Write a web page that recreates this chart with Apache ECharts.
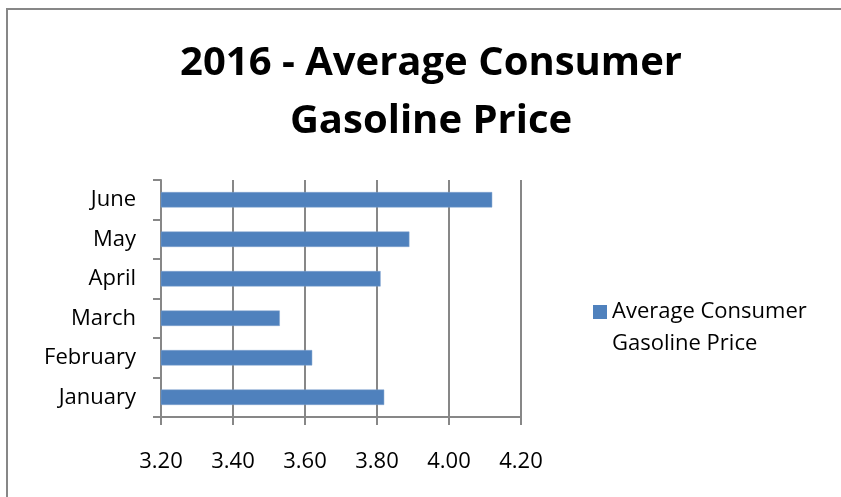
<!DOCTYPE html>
<html>
<head>
<meta charset="utf-8">
<script src="https://cdn.jsdelivr.net/npm/echarts@6/dist/echarts.min.js"></script>
<style>
html,body{margin:0;padding:0;background:#fff;}
#chart{width:841px;height:497px;}
</style>
</head>
<body>
<div id="chart"></div>
<script>
const categories = ['January', 'February', 'March', 'April', 'May', 'June'];
const prices = [3.82, 3.62, 3.53, 3.81, 3.89, 4.12];
const seriesName = 'Average Consumer Gasoline Price';
const xTicks = [3.2, 3.4, 3.6, 3.8, 4.0, 4.2];

const FONT = 'Open Sans';
const chart = echarts.init(document.getElementById('chart'), null, {renderer: 'canvas'});
chart.setOption({
  animation: false,
  backgroundColor: '#ffffff',
  title: {
    text: '2016 - Average Consumer\nGasoline Price',
    left: 431,
    textAlign: 'center',
    top: 35,
    padding: 0,
    textStyle: {fontFamily: FONT, fontWeight: 'bold', fontSize: 40, lineHeight: 58, color: '#000'}
  },
  graphic: [{
    type: 'rect',
    shape: {x: 7, y: 9, width: 900, height: 600},
    style: {fill: 'none', stroke: '#878787', lineWidth: 2},
    silent: true
  }],
  legend: {
    left: 593,
    top: 264,
    padding: 0,
    itemWidth: 14,
    itemHeight: 14,
    icon: 'rect',
    itemGap: 6,
    itemStyle: {borderWidth: 0},
    formatter: () => '\nAverage Consumer\nGasoline Price',
    textStyle: {fontFamily: FONT, fontSize: 22, color: '#000', lineHeight: 32}
  },
  grid: {left: 161, right: 320, top: 180, bottom: 80},
  xAxis: {
    type: 'value',
    min: 3.2,
    max: 4.2,
    interval: 0.2,
    axisLine: {show: true, lineStyle: {color: '#878787', width: 2}},
    axisTick: {show: true, length: 8, lineStyle: {color: '#878787', width: 2}},
    splitLine: {show: true, lineStyle: {color: '#878787', width: 2}},
    axisLabel: {
      margin: 34,
      fontFamily: FONT, fontSize: 22, color: '#000',
      formatter: v => v.toFixed(2)
    }
  },
  yAxis: {
    type: 'category',
    data: categories,
    axisLine: {show: true, lineStyle: {color: '#878787', width: 2}},
    axisTick: {show: true, length: 8, lineStyle: {color: '#878787', width: 2}},
    axisLabel: {margin: 25, fontFamily: FONT, fontSize: 22, color: '#000'}
  },
  series: [{
    name: seriesName,
    type: 'bar',
    data: prices,
    barWidth: '39%',
    itemStyle: {color: '#4f81bd', borderColor: '#7ea3cf', borderWidth: 0.5}
  }]
});
</script>
</body>
</html>
